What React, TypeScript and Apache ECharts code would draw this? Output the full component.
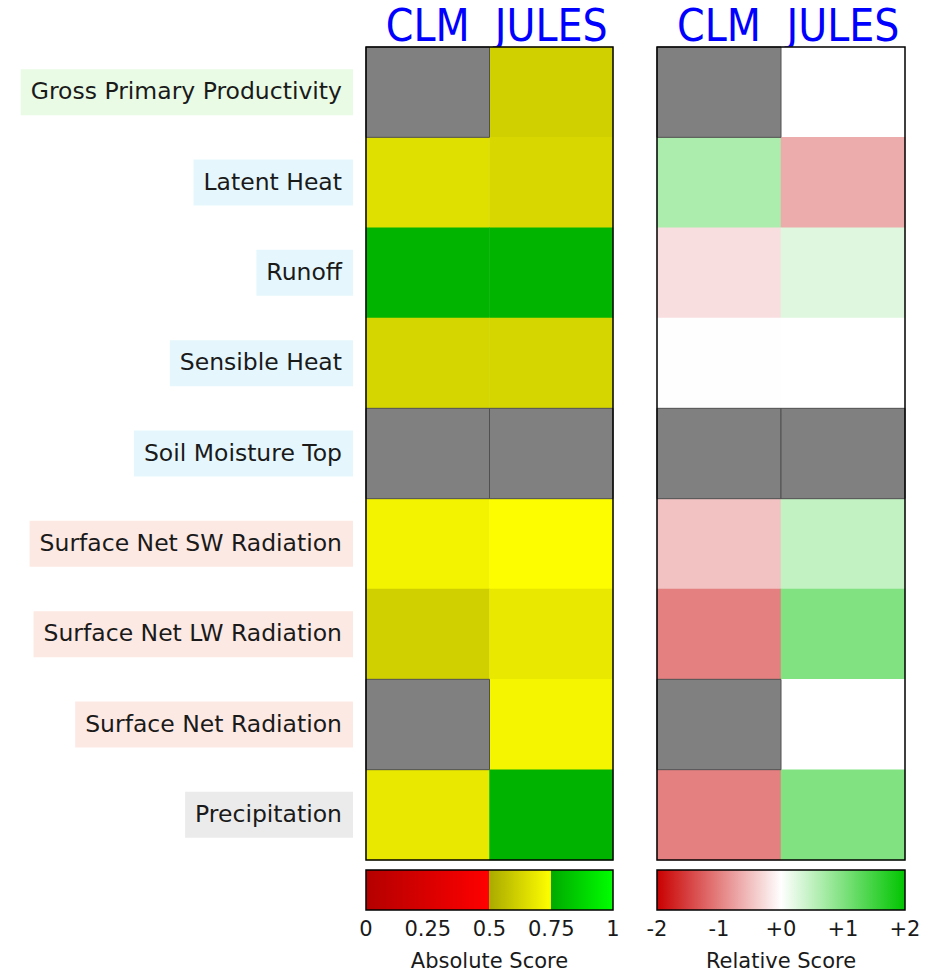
import React, { useEffect, useRef } from 'react';
import * as echarts from 'echarts';

// ---- data ----
const models = ['CLM', 'JULES'];
const variables = [
  'Gross Primary Productivity',
  'Latent Heat',
  'Runoff',
  'Sensible Heat',
  'Soil Moisture Top',
  'Surface Net SW Radiation',
  'Surface Net LW Radiation',
  'Surface Net Radiation',
  'Precipitation',
];
const variableGroups = ['eco', 'hyd', 'hyd', 'hyd', 'hyd', 'rad', 'rad', 'rad', 'forc'];

// absolute scores (null = no data)
const absoluteCLM = [null, 0.659, 0.78, 0.624, null, 0.715, 0.612, null, 0.682];
const absoluteJULES = [0.612, 0.635, 0.78, 0.624, null, 0.745, 0.682, 0.72, 0.775];
// relative scores (null = no data)
const relativeCLM = [null, 0.65, -0.26, -0.01, null, -0.48, -1.0, null, -1.0];
const relativeJULES = [0.0, -0.65, 0.26, 0.0, null, 0.48, 1.0, 0.0, 1.0];

const absoluteTicks = [0, 0.25, 0.5, 0.75, 1];
const relativeTicks = [-2, -1, 0, 1, 2];

// colormaps: [value, color]
const absoluteColorStops: [number, string][] = [
  [0, '#b40000'],
  [0.5, '#ff0000'],
  [0.5, '#aaaa00'],
  [0.75, '#ffff00'],
  [0.75, '#00aa00'],
  [1, '#00ff00'],
];
const relativeColorStops: [number, string][] = [
  [-2, '#c90000'],
  [0, '#ffffff'],
  [2, '#00c500'],
];

function hexToRgb(h: string) {
  const n = parseInt(h.slice(1), 16);
  return [(n >> 16) & 255, (n >> 8) & 255, n & 255];
}
function sampleColor(stops: [number, string][], v: number) {
  for (let i = stops.length - 2; i >= 0; i--) {
    const a = stops[i], b = stops[i + 1];
    if (b[0] > a[0] && v >= a[0]) {
      const t = Math.min(1, (v - a[0]) / (b[0] - a[0]));
      const ca = hexToRgb(a[1]), cb = hexToRgb(b[1]);
      const c = ca.map((x, k) => Math.round(x + (cb[k] - x) * t));
      return `rgb(${c[0]},${c[1]},${c[2]})`;
    }
  }
  return stops[0][1];
}
function sampledColors(stops: [number, string][], n: number) {
  const lo = stops[0][0], hi = stops[stops.length - 1][0];
  const out: string[] = [];
  for (let i = 0; i <= n; i++) out.push(sampleColor(stops, lo + ((hi - lo) * i) / n));
  return out;
}
function gradientOf(stops: [number, string][]) {
  const lo = stops[0][0], hi = stops[stops.length - 1][0];
  return new echarts.graphic.LinearGradient(
    0, 0, 1, 0,
    stops.map(([v, c]) => ({ offset: (v - lo) / (hi - lo), color: c }))
  );
}

function cells(a: (number | null)[], b: (number | null)[]) {
  const out: number[][] = [];
  variables.forEach((_, i) => {
    if (a[i] !== null) out.push([0, i, a[i] as number]);
    if (b[i] !== null) out.push([1, i, b[i] as number]);
  });
  return out;
}
function missing(a: (number | null)[], b: (number | null)[]) {
  const out: number[][] = [];
  variables.forEach((_, i) => {
    if (a[i] === null) out.push([0, i]);
    if (b[i] === null) out.push([1, i]);
  });
  return out;
}

const missingRender = (params: any, api: any) => {
  const p = api.coord([api.value(0), api.value(1)]);
  const s = api.size([1, 1]);
  return {
    type: 'rect',
    shape: { x: p[0] - s[0] / 2, y: p[1] - s[1] / 2, width: s[0], height: s[1] },
    style: { fill: '#808080', stroke: '#505050', lineWidth: 1 },
  };
};
const frameRender = (params: any) => {
  const c = params.coordSys;
  return {
    type: 'rect',
    z2: 100,
    shape: { x: c.x, y: c.y, width: c.width, height: c.height },
    style: { fill: 'none', stroke: '#000', lineWidth: 1.5 },
  };
};
const colorbarRender = (stops: [number, string][]) => (params: any, api: any) => {
  const a = api.coord([api.value(0), 0]);
  const b = api.coord([api.value(1), 1]);
  return {
    type: 'rect',
    shape: { x: a[0], y: b[1], width: b[0] - a[0], height: a[1] - b[1] },
    style: { fill: gradientOf(stops), stroke: '#000', lineWidth: 1.5 },
  };
};

const labelBox = (bg: string) => ({
  backgroundColor: bg,
  padding: [10, 11, 12, 10],
  fontSize: 23.5,
  color: '#1a1a1a',
  fontFamily: 'DejaVu Sans',
});

export default function App() {
  const ref = useRef<HTMLDivElement>(null);
  useEffect(() => {
    const chart = echarts.init(ref.current!, null, { renderer: 'svg' });
    const topLabel = {
      color: '#0000ff',
      fontSize: 44,
      fontFamily: "'Liberation Sans Narrow', 'DejaVu Sans Condensed', sans-serif",
      margin: 0,
      interval: 0,
      hideOverlap: false,
    };
    const barAxisLabel = { fontSize: 21, color: '#1a1a1a', margin: 8, showMinLabel: true, showMaxLabel: true };
    chart.setOption({
      animation: false,
      textStyle: { fontFamily: 'DejaVu Sans' },
      grid: [
        { left: 366, top: 47, width: 247, height: 813 },
        { left: 657, top: 47, width: 248, height: 813 },
        { left: 366, top: 870, width: 247, height: 40 },
        { left: 657, top: 870, width: 248, height: 40 },
      ],
      xAxis: [
        { type: 'category', data: models, gridIndex: 0, position: 'top', axisLine: { show: false }, axisTick: { show: false }, axisLabel: topLabel },
        { type: 'category', data: models, gridIndex: 1, position: 'top', axisLine: { show: false }, axisTick: { show: false }, axisLabel: topLabel },
        {
          type: 'value', gridIndex: 2, min: absoluteTicks[0], max: absoluteTicks[absoluteTicks.length - 1],
          interval: absoluteTicks[1] - absoluteTicks[0],
          axisLine: { show: false }, axisTick: { show: false }, splitLine: { show: false },
          axisLabel: barAxisLabel,
          name: 'Absolute Score', nameLocation: 'middle', nameGap: 40,
          nameTextStyle: { fontSize: 21, color: '#1a1a1a' },
        },
        {
          type: 'value', gridIndex: 3, min: relativeTicks[0], max: relativeTicks[relativeTicks.length - 1],
          interval: relativeTicks[1] - relativeTicks[0],
          axisLine: { show: false }, axisTick: { show: false }, splitLine: { show: false },
          axisLabel: { ...barAxisLabel, formatter: (v: number) => (v >= 0 ? '+' + v : String(v)) },
          name: 'Relative Score', nameLocation: 'middle', nameGap: 40,
          nameTextStyle: { fontSize: 21, color: '#1a1a1a' },
        },
      ],
      yAxis: [
        {
          type: 'category', data: variables, gridIndex: 0, inverse: true,
          axisLine: { show: false }, axisTick: { show: false },
          axisLabel: {
            margin: 13,
            interval: 0,
            formatter: (v: string, i: number) => `{${variableGroups[i]}|${v}}`,
            rich: {
              eco: labelBox('#e9fbe5'),
              hyd: labelBox('#e5f7fd'),
              rad: labelBox('#fde9e3'),
              forc: labelBox('#ebebeb'),
            },
          },
        },
        {
          type: 'category', data: variables, gridIndex: 1, inverse: true,
          axisLine: { show: false }, axisTick: { show: false }, axisLabel: { show: false },
        },
        { type: 'value', gridIndex: 2, min: 0, max: 1, show: false },
        { type: 'value', gridIndex: 3, min: 0, max: 1, show: false },
      ],
      visualMap: [
        {
          type: 'continuous', show: false, seriesIndex: 0, dimension: 2,
          min: absoluteTicks[0], max: absoluteTicks[absoluteTicks.length - 1],
          inRange: { color: sampledColors(absoluteColorStops, 400) },
        },
        {
          type: 'continuous', show: false, seriesIndex: 3, dimension: 2,
          min: relativeTicks[0], max: relativeTicks[relativeTicks.length - 1],
          inRange: { color: relativeColorStops.map((s) => s[1]) },
        },
      ],
      series: [
        { type: 'heatmap', xAxisIndex: 0, yAxisIndex: 0, data: cells(absoluteCLM, absoluteJULES), itemStyle: { borderWidth: 0 }, emphasis: { disabled: true } },
        { type: 'custom', xAxisIndex: 0, yAxisIndex: 0, data: missing(absoluteCLM, absoluteJULES), renderItem: missingRender, silent: true },
        { type: 'custom', xAxisIndex: 0, yAxisIndex: 0, data: [[0, 0]], renderItem: frameRender, silent: true, z: 10 },
        { type: 'heatmap', xAxisIndex: 1, yAxisIndex: 1, data: cells(relativeCLM, relativeJULES), itemStyle: { borderWidth: 0 }, emphasis: { disabled: true } },
        { type: 'custom', xAxisIndex: 1, yAxisIndex: 1, data: missing(relativeCLM, relativeJULES), renderItem: missingRender, silent: true },
        { type: 'custom', xAxisIndex: 1, yAxisIndex: 1, data: [[0, 0]], renderItem: frameRender, silent: true, z: 10 },
        {
          type: 'custom', xAxisIndex: 2, yAxisIndex: 2, silent: true,
          data: [[absoluteTicks[0], absoluteTicks[absoluteTicks.length - 1]]],
          renderItem: colorbarRender(absoluteColorStops),
        },
        {
          type: 'custom', xAxisIndex: 3, yAxisIndex: 3, silent: true,
          data: [[relativeTicks[0], relativeTicks[relativeTicks.length - 1]]],
          renderItem: colorbarRender(relativeColorStops),
        },
      ],
    });
    return () => chart.dispose();
  }, []);
  return <div ref={ref} style={{ position: 'absolute', left: 0, top: 0, width: 935, height: 972 }} />;
}
